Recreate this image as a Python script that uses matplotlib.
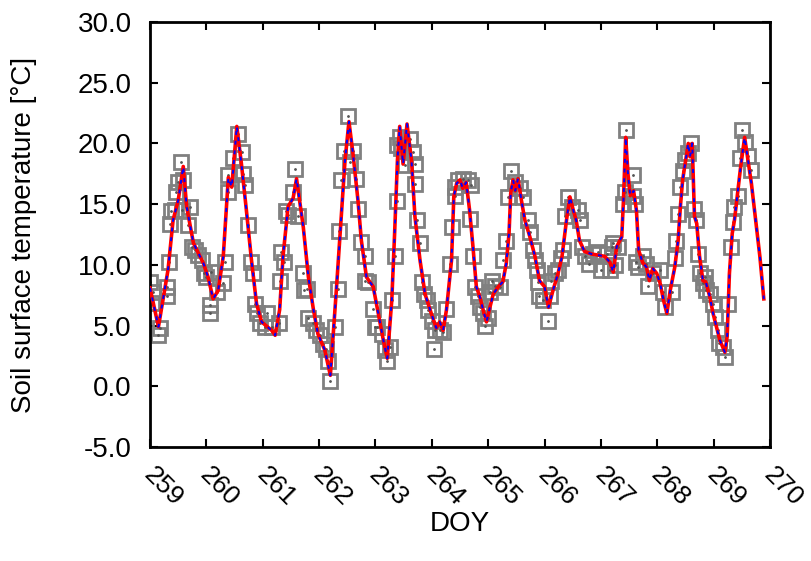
import matplotlib
matplotlib.use('Agg')
import matplotlib.pyplot as plt
import matplotlib.transforms as mtransforms
from matplotlib.ticker import FormatStrFormatter

plt.rcParams['font.family'] = ['Liberation Sans', 'DejaVu Sans']

# modelled soil surface temperature (line)
line_doy = [259.00, 259.15, 259.32, 259.41, 259.50, 259.59, 259.65, 259.77, 259.95, 260.03,
            260.12, 260.21, 260.30, 260.39, 260.45, 260.54, 260.62, 260.71, 260.80, 260.89,
            260.98, 261.16, 261.22, 261.30, 261.36, 261.45, 261.54, 261.60, 261.72, 261.81,
            261.90, 261.98, 262.10, 262.20, 262.31, 262.40, 262.46, 262.53, 262.60, 262.69,
            262.75, 262.84, 262.96, 263.05, 263.14, 263.21, 263.29, 263.34, 263.39, 263.43,
            263.49, 263.56, 263.64, 263.70, 263.79, 263.88, 263.99, 264.08, 264.14, 264.20,
            264.26, 264.35, 264.39, 264.44, 264.50, 264.55, 264.61, 264.67, 264.73, 264.79,
            264.85, 264.91, 264.97, 265.03, 265.09, 265.18, 265.26, 265.32, 265.37, 265.40,
            265.44, 265.48, 265.53, 265.59, 265.65, 265.74, 265.83, 265.91, 266.00, 266.07,
            266.15, 266.24, 266.31, 266.39, 266.45, 266.51, 266.56, 266.62, 266.71, 266.83,
            266.95, 267.07, 267.16, 267.22, 267.28, 267.37, 267.40, 267.44, 267.48, 267.52,
            267.58, 267.63, 267.67, 267.74, 267.81, 267.86, 267.92, 267.99, 268.05, 268.11,
            268.17, 268.23, 268.31, 268.37, 268.41, 268.45, 268.51, 268.55, 268.58, 268.62,
            268.66, 268.70, 268.75, 268.81, 268.86, 268.93, 268.99, 269.05, 269.11, 269.20,
            269.24, 269.28, 269.33, 269.37, 269.43, 269.48, 269.55, 269.61, 269.67, 269.76,
            269.82, 269.89]
line_temp = [8.1, 4.9, 9.6, 13.7, 15.3, 18.1, 14.8, 11.8, 10.1, 9.0,
             7.2, 7.9, 10.7, 17.2, 16.4, 21.4, 18.4, 14.5, 10.4, 6.8,
             5.3, 4.6, 4.2, 6.3, 10.7, 14.8, 15.5, 17.1, 13.1, 9.0,
             6.3, 4.3, 3.0, 0.9, 8.2, 14.5, 18.6, 21.8, 19.2, 15.3,
             12.0, 9.0, 8.2, 6.0, 3.8, 2.3, 7.1, 12.6, 18.6, 21.4,
             18.3, 21.6, 18.6, 14.0, 10.4, 7.6, 6.0, 4.8, 5.3, 4.6,
             6.3, 10.4, 15.6, 16.7, 17.0, 16.3, 16.8, 14.5, 11.5, 8.2,
             7.4, 6.3, 5.3, 6.5, 7.6, 8.2, 8.6, 10.1, 12.6, 15.9,
             17.0, 16.1, 17.1, 15.3, 13.7, 12.3, 10.7, 8.7, 8.2, 6.5,
             7.9, 9.3, 10.7, 13.7, 15.6, 14.5, 13.7, 12.0, 11.1, 10.9,
             10.8, 10.7, 10.2, 9.4, 11.5, 12.3, 15.3, 20.5, 17.5, 15.7,
             16.1, 14.5, 11.2, 10.2, 9.8, 8.7, 9.7, 9.3, 8.5, 7.1,
             6.0, 7.9, 9.8, 12.0, 14.8, 17.0, 18.8, 20.0, 18.9, 20.0,
             14.0, 13.4, 10.7, 8.7, 8.6, 7.4, 6.0, 4.9, 3.8, 2.8,
             4.1, 9.3, 12.6, 13.7, 16.1, 18.1, 20.5, 18.6, 16.7, 13.1,
             10.7, 7.2]

# measured soil surface temperature (squares)
obs_doy = [259.00, 259.06, 259.03, 259.18, 259.15, 259.30, 259.30, 259.33, 259.35, 259.38,
           259.44, 259.47, 259.50, 259.55, 259.59, 259.71, 259.56, 259.68, 259.74, 259.80,
           259.86, 259.92, 259.95, 260.00, 260.09, 260.06, 260.06, 260.18, 260.30, 260.33,
           260.39, 260.39, 260.48, 260.57, 260.63, 260.65, 260.68, 260.74, 260.80, 260.83,
           260.86, 260.89, 260.95, 261.07, 261.04, 261.16, 261.28, 261.30, 261.33, 261.38,
           261.42, 261.45, 261.54, 261.57, 261.63, 261.72, 261.74,
           261.78, 261.81, 261.90, 261.95, 262.01, 262.07, 262.13, 262.16, 262.28, 262.19,
           262.33, 262.36, 262.38, 262.44, 262.52, 262.60, 262.55, 262.66, 262.69, 262.75,
           262.81, 262.81, 262.87, 262.96, 262.99,
           263.02, 263.11, 263.17, 263.20, 263.26, 263.29, 263.35, 263.38, 263.38, 263.43,
           263.46, 263.52, 263.61, 263.67, 263.70, 263.70, 263.73, 263.79, 263.82, 263.86,
           263.91, 263.94, 264.00, 264.06, 264.03, 264.14, 264.20, 264.26, 264.32, 264.35,
           264.41, 264.41, 264.47, 264.56, 264.64, 264.70, 264.68, 264.73, 264.77, 264.82,
           264.85, 264.91, 264.94, 265.00, 265.06, 265.03, 265.12, 265.21, 265.26, 265.32,
           265.35, 265.41, 265.47, 265.56, 265.62, 265.70, 265.74, 265.80, 265.83, 265.86,
           265.89, 265.91, 265.97, 266.06, 266.09, 266.12, 266.18, 266.24, 266.30, 266.33,
           266.36, 266.42, 266.48, 266.60, 266.63, 266.66, 266.72, 266.78, 266.86, 266.95,
           267.01, 267.10, 267.19, 267.16,
           267.22, 267.25, 267.31, 267.40, 267.43, 267.44, 267.57, 267.60, 267.57, 267.63,
           267.66, 267.74, 267.80, 267.83, 267.92, 268.04, 268.10, 268.13, 268.27, 268.31,
           268.34, 268.37, 268.40, 268.46, 268.50, 268.54, 268.60, 268.66, 268.69, 268.72,
           268.75, 268.84, 268.81, 268.87, 268.93, 268.99, 269.02, 269.07, 269.10, 269.16,
           269.20, 269.25, 269.31, 269.34, 269.37, 269.43, 269.46, 269.51, 269.55, 269.61,
           269.67]
obs_temp = [8.6, 7.8, 6.9, 4.8, 4.2, 8.2, 7.4, 10.2, 13.4, 14.4,
            14.5, 16.0, 16.8, 18.5, 17.0, 14.8, 14.5, 13.3, 11.5, 11.2,
            10.8, 10.4, 9.3, 9.0, 9.4, 6.7, 6.0, 7.8, 8.5, 10.2,
            16.0, 17.4, 18.8, 20.8, 19.3, 17.5, 16.6, 13.3, 10.2, 9.3,
            6.8, 6.0, 5.2, 6.0, 4.9, 4.9, 5.2, 8.7, 11.1, 10.2,
            14.4, 14.1, 16.0, 17.9, 14.0, 9.3, 7.9,
            8.0, 5.6, 5.2, 4.6, 4.2, 3.5, 3.1, 2.1, 4.9, 0.4,
            8.0, 12.8, 17.0, 19.4, 22.3, 19.4, 18.5, 17.1, 14.6, 11.9,
            10.7, 8.7, 8.6, 6.4, 4.9,
            4.9, 4.3, 3.0, 2.1, 3.2, 7.1, 10.7, 15.3, 19.9, 20.5,
            19.6, 18.2, 20.4, 19.3, 18.3, 16.7, 13.7, 11.8, 8.6, 7.6,
            7.1, 6.3, 5.4, 4.6, 3.1, 4.6, 4.5, 6.4, 10.1, 13.1,
            16.4, 15.7, 17.0, 17.1, 17.0, 16.6, 13.8, 10.7, 8.2, 7.4,
            6.5, 6.0, 5.0, 5.6, 8.7, 7.8, 8.3, 8.2, 10.4, 12.0,
            15.6, 17.7, 16.8, 16.3, 15.6, 13.7, 12.7, 11.2, 10.4, 9.6,
            8.6, 7.4, 7.1, 5.4, 7.4, 8.7, 9.3, 9.6, 10.6, 11.2,
            14.0, 15.6, 14.8, 14.5, 13.7, 11.5, 10.7, 10.1, 10.9, 11.1,
            9.6, 10.9, 11.5, 9.6,
            11.8, 10.0, 11.5, 15.0, 16.0, 21.1, 17.4, 15.0, 15.7, 10.2,
            9.8, 10.7, 10.1, 8.3, 9.3, 9.6, 7.8, 6.5, 7.8, 10.6,
            12.0, 14.2, 16.4, 17.7, 18.6, 19.2, 20.0, 14.6, 13.7, 10.9,
            9.3, 9.0, 8.5, 7.9, 7.6, 6.8, 5.7, 4.6, 3.6, 3.2,
            2.4, 6.8, 11.5, 13.5, 14.8, 15.7, 18.8, 21.1, 20.1, 19.0,
            17.8]

xticks = list(range(259, 271))
yticks = [-5.0, 0.0, 5.0, 10.0, 15.0, 20.0, 25.0, 30.0]

fig = plt.figure(figsize=(8.11, 5.61), dpi=100)
ax = fig.add_axes([150 / 811, 1 - 447 / 561, 620 / 811, 425 / 561])

ax.plot(obs_doy, obs_temp, linestyle='none', marker='s', markersize=9.5,
        markerfacecolor='none', markeredgecolor='#808080', markeredgewidth=2, zorder=2)
ax.plot(obs_doy, obs_temp, linestyle='none', marker='.', markersize=2,
        color='#555555', zorder=2)
ax.plot(line_doy, line_temp, color='red', linewidth=2.6, zorder=3)
ax.plot(line_doy, line_temp, color='blue', linewidth=1.4, linestyle=(0, (2, 3)), zorder=4)

ax.set_xlim(259, 270)
ax.set_ylim(-5, 30)
ax.set_xticks(xticks)
ax.set_yticks(yticks)
ax.yaxis.set_major_formatter(FormatStrFormatter('%.1f'))

for sp in ax.spines.values():
    sp.set_linewidth(2)
ax.tick_params(direction='in', length=6, width=1.5, top=True, right=True, labelsize=20)
ax.tick_params(axis='y', pad=13)
ax.tick_params(axis='x', pad=11, labelsize=19)

# rotated day labels, shifted slightly left of their ticks
shift = mtransforms.ScaledTranslation(-8 / 72, 0, fig.dpi_scale_trans)
for lab in ax.get_xticklabels():
    lab.set_rotation(-45)
    lab.set_ha('left')
    lab.set_va('top')
    lab.set_transform(lab.get_transform() + shift)

ax.set_xlabel('DOY', fontsize=20)
ax.set_ylabel('Soil surface temperature [°C]', fontsize=20)
ax.xaxis.set_label_coords(0.5, -0.15)
ax.yaxis.set_label_coords(-0.182, 0.5)

plt.savefig('out.png', dpi=100)
